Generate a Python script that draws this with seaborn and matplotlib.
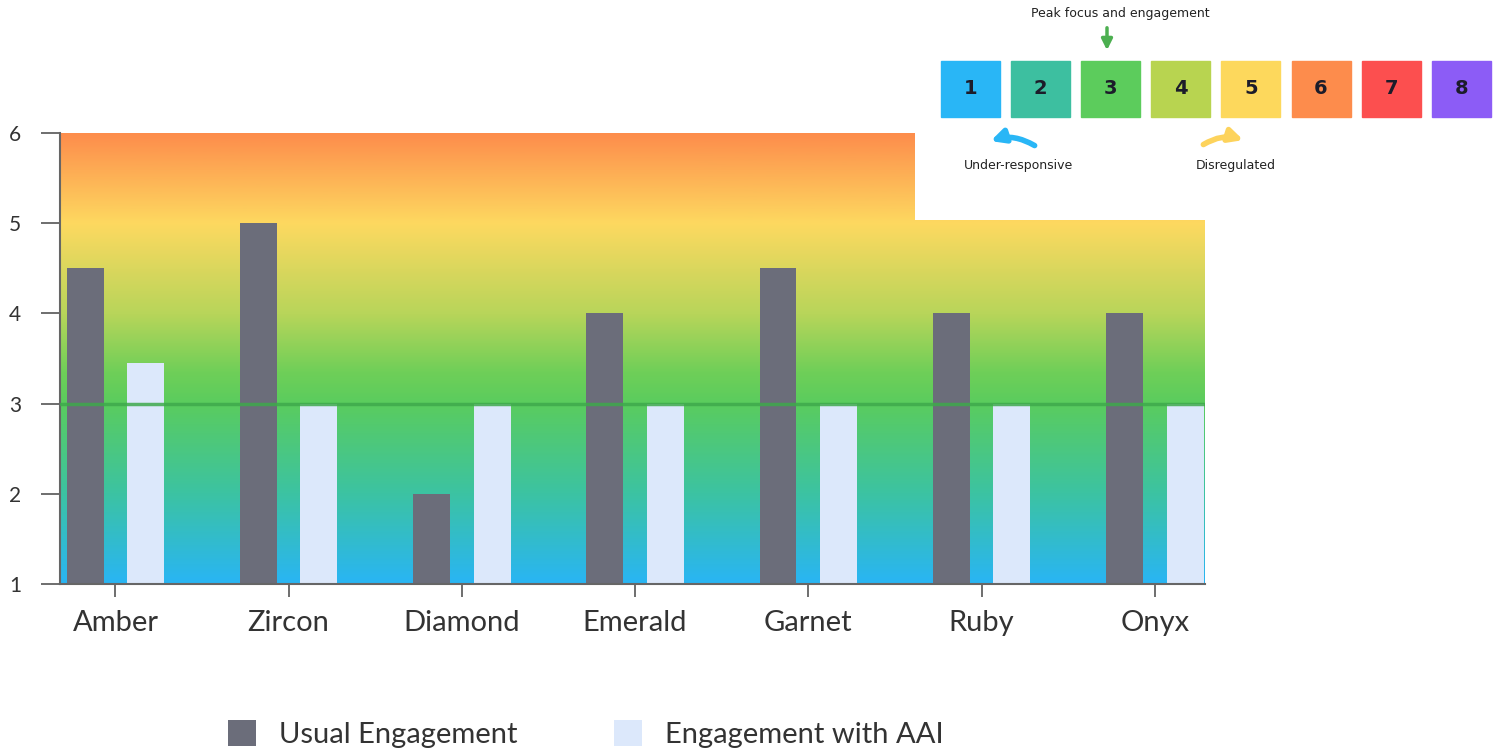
import numpy as np
import pandas as pd
import matplotlib.pyplot as plt
import seaborn as sns
from matplotlib.colors import LinearSegmentedColormap
from matplotlib.patches import Rectangle, FancyArrowPatch

# Data
stones = ['Amber', 'Zircon', 'Diamond', 'Emerald', 'Garnet', 'Ruby', 'Onyx']
usual = [4.5, 5, 2, 4, 4.5, 4, 4]
with_aai = [3.45, 3, 3, 3, 3, 3, 3]
series_names = ['Usual Engagement', 'Engagement with AAI']

# Scale shown in the top-right key
scale_levels = [1, 2, 3, 4, 5, 6, 7, 8]
scale_colors = ['#29b6f6', '#3dbfa0', '#5ccc5c', '#b8d450',
                '#fdd85c', '#fd8c4c', '#fc4f4f', '#8c5cf6']

df = pd.DataFrame({
    'Stone': stones * 2,
    'Score': usual + with_aai,
    'Series': [series_names[0]] * len(stones) + [series_names[1]] * len(stones),
})

sns.set_style('white')
plt.rcParams['font.family'] = ['Lato', 'DejaVu Sans']

fig = plt.figure(figsize=(14.96, 7.54), dpi=100)
ax = fig.add_axes([60 / 1496, 170 / 754, 1145 / 1496, 451 / 754])

sns.barplot(data=df, x='Stone', y='Score', hue='Series',
            palette=['#6b6d7a', '#dce8fb'], width=0.7, gap=0.39,
            saturation=1, ax=ax, zorder=2, linewidth=0, edgecolor='none')

xlim = (-0.32, 6.29)
ax.set_xlim(xlim)
ax.set_ylim(1, 6)

# Gradient background
grad_cmap = LinearSegmentedColormap.from_list('zone', [
    (0.0, '#29b5f4'), (0.2, '#3cc3a2'), (0.4, '#5acc5e'), (0.47, '#6fcf58'),
    (0.6, '#b8d55a'), (0.8, '#fdd960'), (1.0, '#fd8d4c')])
grad = np.linspace(0, 1, 256).reshape(-1, 1)
ax.imshow(grad, cmap=grad_cmap, aspect='auto', origin='lower',
          extent=(xlim[0], xlim[1], 1, 6), zorder=0)

# Peak-focus line
ax.axhline(3, color='#3fa94c', lw=2.5, alpha=0.85, zorder=3)

ax.set_xlabel('')
ax.set_ylabel('')
ax.set_yticks([1, 2, 3, 4, 5, 6])
ax.tick_params(axis='y', left=True, length=14, width=1.2, color='#555555', pad=14,
               labelsize=15, labelcolor='#333333')
ax.tick_params(axis='x', bottom=True, length=9, width=1.2, color='#555555', pad=10,
               labelsize=21, labelcolor='#333333')
sns.despine(ax=ax)
for side in ['left', 'bottom']:
    ax.spines[side].set_color('#666666')
    ax.spines[side].set_linewidth(1.5)

# Legend at the bottom
handles, labels = ax.get_legend_handles_labels()
ax.get_legend().remove()
fig.legend(handles, labels, loc='center left', bbox_to_anchor=(202 / 1496, 0.026),
           ncol=2, frameon=False, fontsize=21, handlelength=0.95, handleheight=1.0,
           handletextpad=0.8, columnspacing=3.3, labelcolor='#333333')

# Engagement key in the top right
kx = fig.add_axes([915 / 1496, 1 - 220 / 754, 581 / 1496, 220 / 754], zorder=5)
kx.set_xlim(915, 1496)
kx.set_ylim(220, 0)
kx.set_facecolor('white')
kx.axis('off')
kx.add_patch(Rectangle((915, 0), 581, 220, color='white', zorder=0))

for i, (lvl, col) in enumerate(zip(scale_levels, scale_colors)):
    left = 941 + i * 70.1
    kx.add_patch(Rectangle((left, 61), 59, 56, color=col, zorder=1))
    kx.text(left + 29.5, 89, str(lvl), ha='center', va='center',
            fontsize=14, fontweight='bold', color='#1c1c2a', zorder=2,
            family=['DejaVu Sans'])

hand = dict(fontsize=9, color='#222222', family=['DejaVu Sans'])
kx.text(1120, 14, 'Peak focus and engagement', ha='center', va='center', **hand)
kx.text(1019, 166, 'Under-responsive', ha='center', va='center', **hand)
kx.text(1236, 166, 'Disregulated', ha='center', va='center', **hand)

kx.add_patch(FancyArrowPatch((1107, 25), (1107, 53), arrowstyle='-|>',
                             mutation_scale=16, lw=2.5, color='#4caf50'))
kx.add_patch(FancyArrowPatch((1037, 147), (988, 142), arrowstyle='-|>',
                             connectionstyle='arc3,rad=0.25',
                             mutation_scale=20, lw=4, color='#29b6f6'))
kx.add_patch(FancyArrowPatch((1201, 146), (1246, 141), arrowstyle='-|>',
                             connectionstyle='arc3,rad=-0.25',
                             mutation_scale=20, lw=4, color='#fdd35c'))

fig.savefig('out.png', dpi=100)
